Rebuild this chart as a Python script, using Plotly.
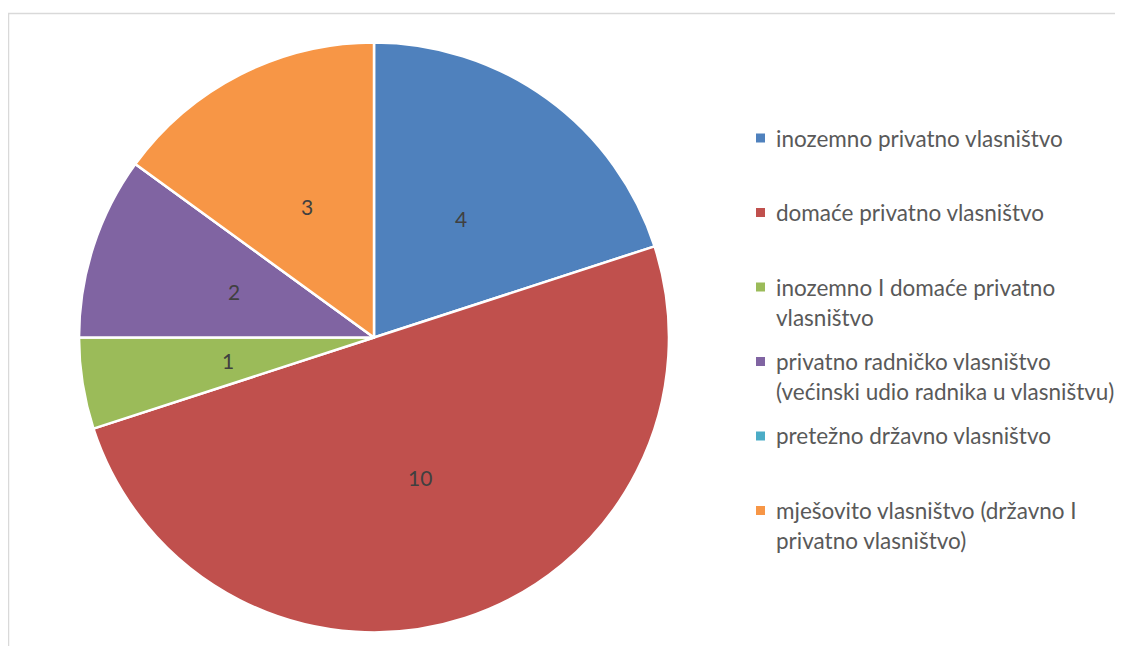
import math
import plotly.graph_objects as go

# ---- data ----
categories = [
    "inozemno privatno vlasništvo",
    "domaće privatno vlasništvo",
    "inozemno I domaće privatno vlasništvo",
    "privatno radničko vlasništvo (većinski udio radnika u vlasništvu)",
    "pretežno državno vlasništvo",
    "mješovito vlasništvo (državno I privatno vlasništvo)",
]
legend_lines = [
    ["inozemno privatno vlasništvo"],
    ["domaće privatno vlasništvo"],
    ["inozemno I domaće privatno", "vlasništvo"],
    ["privatno radničko vlasništvo", "(većinski udio radnika u vlasništvu)"],
    ["pretežno državno vlasništvo"],
    ["mješovito vlasništvo (državno I", "privatno vlasništvo)"],
]
values = [4, 10, 1, 2, 0, 3]
colors = ["#4F81BD", "#C0504D", "#9BBB59", "#8064A2", "#4BACC6", "#F79646"]

# ---- layout geometry (pixels, as seen in the window) ----
OFF = 8  # page body margin offset
W, H = 1123 - 2 * OFF, 654 - 2 * OFF
CX, CY, R = 374, 337.5, 295
FONT = "Lato"
TEXT_COLOR = "#595959"
LABEL_COLOR = "#404040"
FS_LEG = 22.5
FS_LAB = 21


def px(x):
    return (x - OFF) / W


def py(y):
    return 1 - (y - OFF) / H


fig = go.Figure(
    go.Pie(
        labels=categories,
        values=values,
        sort=False,
        direction="clockwise",
        rotation=0,
        marker=dict(colors=colors, line=dict(color="white", width=2.5)),
        textinfo="none",
        hoverinfo="label+value",
        showlegend=False,
        domain=dict(x=[px(CX - R), px(CX + R)], y=[py(CY + R), py(CY - R)]),
    )
)

annotations = []
shapes = []

# data labels at half radius, mid-angle of each slice
total = sum(values)
cum = 0
for v in values:
    if v > 0:
        mid = (cum + v / 2) / total * 2 * math.pi
        lx = CX + 0.5 * R * math.sin(mid)
        ly = CY - 0.5 * R * math.cos(mid)
        annotations.append(dict(
            x=px(lx), y=py(ly), xref="paper", yref="paper",
            text=str(v), showarrow=False, xanchor="center", yanchor="middle",
            font=dict(family=FONT, size=FS_LAB, color=LABEL_COLOR),
        ))
    cum += v

# custom legend
LEG_Y0, LEG_STEP = 138, 74.5
MARK_X, TEXT_X, MS = 760.5, 774, 9
LH = 30
for i, (lines, c) in enumerate(zip(legend_lines, colors)):
    yc = LEG_Y0 + i * LEG_STEP
    shapes.append(dict(
        type="rect", xref="paper", yref="paper",
        x0=px(MARK_X - MS / 2), x1=px(MARK_X + MS / 2),
        y0=py(yc + MS / 2), y1=py(yc - MS / 2),
        fillcolor=c, line=dict(width=0),
    ))
    for j, t in enumerate(lines):
        annotations.append(dict(
            x=px(TEXT_X), y=py(yc + j * LH), xref="paper", yref="paper",
            text=t, showarrow=False, xanchor="left", yanchor="middle",
            font=dict(family=FONT, size=FS_LEG, color=TEXT_COLOR),
        ))

# chart border
shapes.append(dict(
    type="rect", xref="paper", yref="paper",
    x0=px(8.5), x1=px(1160), y0=py(690), y1=py(13.5),
    line=dict(color="#D9D9D9", width=1.5), fillcolor="rgba(0,0,0,0)",
    layer="below",
))

fig.update_layout(
    width=W, height=H,
    margin=dict(l=0, r=0, t=0, b=0),
    paper_bgcolor="white",
    plot_bgcolor="white",
    annotations=annotations,
    shapes=shapes,
    showlegend=False,
)

fig.write_html("out.html")
